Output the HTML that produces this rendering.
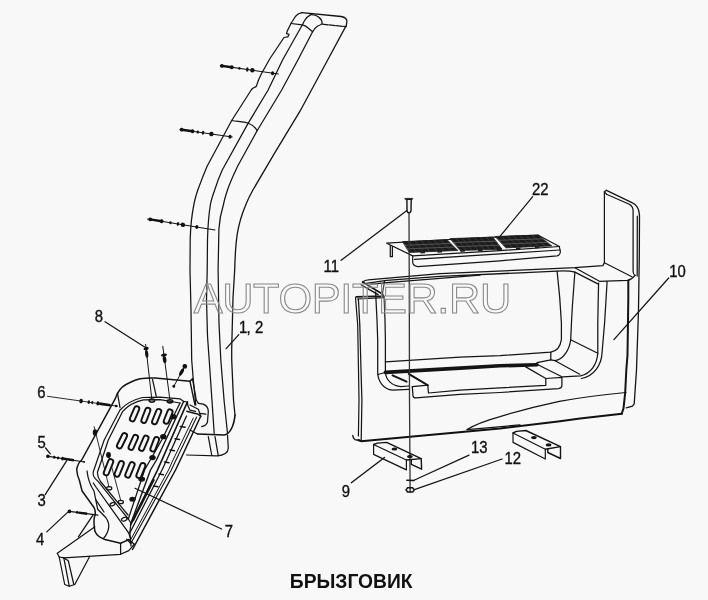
<!DOCTYPE html>
<html>
<head>
<meta charset="utf-8">
<title>Брызговик</title>
<style>
html,body{margin:0;padding:0;background:#f8f8f8;}
body{width:708px;height:600px;overflow:hidden;font-family:"Liberation Sans",sans-serif;}
svg{display:block;filter:grayscale(1);}
.l{fill:none;stroke:#141414;stroke-width:1.25;stroke-linecap:round;stroke-linejoin:round;}
.t{fill:none;stroke:#111;stroke-width:1.6;stroke-linecap:round;stroke-linejoin:round;}
.n{fill:none;stroke:#333;stroke-width:0.8;stroke-linecap:round;stroke-linejoin:round;}
.lab{font-family:"Liberation Sans",sans-serif;font-size:16px;fill:#111;stroke:#111;stroke-width:0.35;}
.wm{font-family:"Liberation Sans",sans-serif;font-size:43.3px;fill:#ffffff;fill-opacity:0.2;stroke:#8a8a8a;stroke-width:1.1;}
.ttl{font-family:"Liberation Sans",sans-serif;font-size:19.8px;font-weight:bold;fill:#111;}
</style>
</head>
<body>
<svg width="708" height="600" viewBox="0 0 708 600">
<rect x="0" y="0" width="708" height="600" fill="#f8f8f8"/>

<!-- ===== PILLAR (1,2) ===== -->
<g id="pillar" class="l">
<!-- outer left L1 -->
<path d="M301.8,12.7 C298.5,13.5 296.8,14.8 295.4,16.5 L291,23.5 L287.2,31.1 L286.5,33.7 L289.1,34.3 L287.8,36.9 L284,37.5 L270,58.5 L261.4,73.7 L258.5,80 L256.3,86.4 L252.5,88.5 L251.2,90 L231.7,120.5 L207.1,166.3 C203,176 200,184 197.8,190 C195.5,197 194.5,201 194,204 C191.5,216 190.5,228 190.2,239.5 L190,270 L191,310.8 L191.7,360 L193.3,380 L195.8,405"/>
<!-- top edge + right outer R -->
<path d="M301.8,12.7 L341.2,16.5 C345,17.3 347,19 346.9,21.6 L346.3,25.4 L327.8,59.7 L300,111.2 L274.9,152.7 L252.9,190 C249,197 247.5,200.5 246.1,204 C241,216 238.5,226 237.2,234.4 C235.5,246 235,258 234.7,270 L233,298 L231.7,349 L231.7,360 L233.5,400 L235,415" style="stroke-width:1.3"/>
<!-- L2 -->
<path d="M310.7,14.6 C308,16 305.8,18.5 304.3,21 L302.4,24.8 L282.7,59.7 L268.1,90 L247.8,123.9 L222.4,169.7 C219,177 216.5,184 214.7,190 C212.5,196 211.3,200 210.5,204 C208.5,216 207.8,228 207.5,239.5 L207.2,270 L206.5,300 L207.5,336 L209.2,360 L214.2,433.3"/>
<!-- dome -->
<path d="M310.7,14.6 C314,14.5 317,15.5 318.9,17.2 C321,19 322.3,21 322.1,23.5 C321,25 319.5,25.5 317.7,26 C315.5,27.5 313.8,29.5 312.6,31.8"/>
<!-- L3 -->
<path d="M312.6,31.8 L298,59.7 L281.7,90 L257.1,130.7 L237.6,166.3 C233,176 229.5,184 227.5,190 C225.5,196 224.3,200 223.6,204 C220.5,214 219.3,222 218.9,229.3 L218.1,270 L219,323.6 L220.8,360 L224.2,401.7 L227.5,433.3"/>
<!-- cap seams -->
<path d="M291,23.5 L302.4,24.8 C305,25.5 306.8,26.6 308.1,28 L312.6,31.8"/>
<path d="M322.1,24.2 L346.3,26.7" stroke-dasharray="6 1.2" style="stroke-width:1.3"/>
<!-- mid seam -->
<path d="M231.7,120.5 C238,121.5 244,122 247.8,123 C252,124.5 255,127 257.1,130.7"/>
</g>


<!--LEFT-BEGIN-->
<!-- ===== STEP HOUSING (3) / PLATE (7) ===== -->
<g id="housing" class="l">
<!-- housing top curve & box -->
<path d="M117.5,393.3 C120.5,387.5 125,384.5 130,382.5 C134,380.5 137,379.5 140,378.8 C145,378 150,378 155,378.1 L190,381.3 L192.5,378.8" stroke-width="1.5"/>
<path d="M190,381.3 L195,405" stroke-width="1.4"/>
<path d="M192.5,378.8 L196.3,400 L198.3,403.3"/>
<path d="M117.5,393.3 L120,407.5"/>
<path d="M152.5,379.4 L156.3,396.3"/>
<!-- housing left slant -->
<path d="M117.5,393.3 L115,399.2 L81.7,460 C79,462 77.5,465 76.7,469.2 C77,474 78,477.5 79.3,480 L82.1,491 L94,507.5 C95.5,510.5 95.8,513.5 94.5,516.7 C93.5,521 94,526 94.9,531.3 C96,534 97.5,535.8 99.5,536.8 L105,539.6 L120.6,543.3 L128.8,539.6" stroke-width="1.5"/>
<path d="M120.6,543.3 L120.6,554.3"/>
<path d="M128.8,539.6 L134.3,544.2"/>
<path d="M63.8,557.9 L120.6,554.3 L128.8,550.6 L134.3,544.2"/>
<!-- inner D curve of housing -->
<path d="M87,471 C88,479 90.5,486 94,491 L97.7,509.3 L105,516.7 C108,520 109,524 108.7,527.7 C108,532 106,536 103.2,538.7"/>
<path d="M96,500 L104,512"/>
<!-- bottom bracket -->
<path d="M57.3,553.3 L94.9,526.8" stroke-width="1.2"/>
<path d="M78.4,536.8 L93.1,514.8"/>
<path d="M57.3,553.3 L59.2,557 L64.7,584.5 L69.3,586.3 L74.8,584.5 L89.4,557" stroke-width="1.2"/>
<path d="M59.2,557 L63.8,557.9 L68.3,560.7 L73.8,584.5"/>
<path d="M63.8,557.9 L69.3,586.3"/>
<!-- plate double outline -->
<path d="M184,401.7 L180,398.8 L160,397.2 L142.5,397.5 C134,399.5 126,403.5 120,410 L104.2,440 L97.3,460 L93.3,471.7 C92.8,475 93.5,477 95,478.3 L98.3,481.7 L128.3,519" stroke-width="1.2"/>
<path d="M93.3,483 L96.3,487.5 L128.8,533.2 L130.7,538.7"/>
<path d="M180,403 L160,399.6 L143.5,399.9 C135.5,401.5 128,405.5 122.5,411.7 L108.3,440 L101.7,460 L97.5,472 C97.2,475.5 98,478 100.5,481.5 L128,515"/>
<!-- plate right edge + rails -->
<path d="M180,403 L161.7,440 L144.6,470 L128.3,519"/>
<path d="M183.6,401.5 L156.5,460 L150.5,470 L131,523" stroke-width="1.4"/>
<path d="M187.4,402 L161.9,460 L157.5,470 L130.7,524.7" stroke-width="1.7"/>
<path d="M183.6,401.5 L187.4,402 L187.9,405.8 L190,410.2 L195.5,411.3"/>
<path d="M186.8,411.3 L193.3,412.9 L197.7,414 L200.7,416.2" stroke-width="1.5"/>
<path d="M190,405 L198.3,409.2 L200.7,416.2"/>
<path d="M186.5,416 L166.7,460 L162,470 L129.8,533" stroke-width="1.3"/>
<path d="M193.3,418 L173,460 L168.5,470 L130.5,540" stroke-width="1"/>
<path d="M196.7,417 L176,460 L171.3,470 L130.8,543.5" stroke-width="1.1"/>
<path d="M200.7,416.2 L180.3,460 L175.5,470 L132.5,549.5" stroke-width="1.5"/>
<path d="M128.3,519 L131,523 L130.7,524.7 L129.8,533 L130.5,540 L131,545.9"/>
<path d="M126.7,539.2 L130.8,543.5"/>
<!-- rail rungs -->
<path d="M180.3,426.5 L185.2,427.2 M175,438.8 L179.5,439.5 M170,450 L174.5,450.7 M164.5,462 L169,462.7 M159,474 L163.5,474.7 M153.5,486 L158,486.7" stroke-width="1.4"/>
<path d="M153.5,480 L132.8,520.5" stroke-width="2.4" stroke-dasharray="1.1 0.9"/>
<!-- rounded bracket behind pillar -->
<path d="M198.3,403.3 L203.3,404.2 C206.5,405.5 208.3,408 208.3,411.7 L207.5,421.7 C207,424.5 205,426 201.7,426.7"/>
<path d="M200,413.3 L205.8,414.2"/>
<!-- pillar base -->
<path class="t" d="M197.5,434 L224.2,435 C230,434 234,426 235,415"/>
<path d="M227.5,435 L228.3,448.3 C228,453 224,455.5 216.7,455.8 L186.7,455"/>
<path d="M208.3,436.7 L211.7,455"/>
<path d="M215,436.7 L218.3,455.8"/>
<path d="M190,430 L197.5,434"/>
<!-- bolt holes -->
<ellipse cx="151.9" cy="400.6" rx="2.7" ry="1.6" stroke-width="1.6"/>
<ellipse cx="170" cy="401.3" rx="2.7" ry="1.6" stroke-width="1.6"/>
<ellipse cx="109.2" cy="488.3" rx="2.6" ry="1.7"/>
<ellipse cx="120.8" cy="502" rx="2.6" ry="1.7"/>
<ellipse cx="112.5" cy="504.2" rx="2.6" ry="1.5" transform="rotate(-20 112.5 504.2)"/>
<ellipse cx="124.2" cy="519.2" rx="2.8" ry="1.7" transform="rotate(-20 124.2 519.2)"/>
<ellipse cx="173.3" cy="416.7" rx="2.6" ry="2" fill="#111"/>
<ellipse cx="163.3" cy="436.7" rx="2.6" ry="2" fill="#111"/>
<ellipse cx="152.5" cy="457.5" rx="2.6" ry="2" fill="#111"/>
<ellipse cx="141.7" cy="479.2" rx="2.8" ry="1.8" fill="#111"/>
<ellipse cx="132.5" cy="499.2" rx="2.6" ry="1.9" fill="#111"/>
<!-- bolt axes through plate -->
<path d="M94.2,426.7 L109,487" stroke-width="0.9"/>
<path d="M108.3,454.2 L120.8,500.8" stroke-width="0.9"/>
<ellipse cx="95" cy="432.5" rx="1.6" ry="2.6" fill="#111"/>
<ellipse cx="108.5" cy="455" rx="1.8" ry="2.4" fill="#111"/>
</g>
<!-- leaders left -->
<g class="l">
<path d="M105,321.7 L144.6,347"/>
<path d="M45.6,448 L50.3,453.8"/>
<path d="M45.2,494.6 L66.6,460.8"/>
<path d="M46.8,531.9 L67.8,512.1"/>
<path d="M135,488.3 L221.6,529"/>
<path d="M238.8,334.6 L226.1,348.7"/>
</g>

<g id="slots">
<line x1="136.7" y1="408.8" x2="132.4" y2="418.8" stroke="#111" stroke-width="7.0" stroke-linecap="round"/>
<line x1="136.7" y1="408.8" x2="132.4" y2="418.8" stroke="#f4f4f4" stroke-width="3.2" stroke-linecap="round"/>
<line x1="147.8" y1="410.3" x2="143.9" y2="420.4" stroke="#111" stroke-width="7.0" stroke-linecap="round"/>
<line x1="147.8" y1="410.3" x2="143.9" y2="420.4" stroke="#f4f4f4" stroke-width="3.2" stroke-linecap="round"/>
<line x1="158.7" y1="411.5" x2="154.6" y2="421.7" stroke="#111" stroke-width="7.0" stroke-linecap="round"/>
<line x1="158.7" y1="411.5" x2="154.6" y2="421.7" stroke="#f4f4f4" stroke-width="3.2" stroke-linecap="round"/>
<line x1="170.0" y1="411.9" x2="166.3" y2="421.2" stroke="#111" stroke-width="7.0" stroke-linecap="round"/>
<line x1="170.0" y1="411.9" x2="166.3" y2="421.2" stroke="#f4f4f4" stroke-width="3.2" stroke-linecap="round"/>
<line x1="124.5" y1="435.6" x2="119.5" y2="445.9" stroke="#111" stroke-width="7.0" stroke-linecap="round"/>
<line x1="124.5" y1="435.6" x2="119.5" y2="445.9" stroke="#f4f4f4" stroke-width="3.2" stroke-linecap="round"/>
<line x1="135.5" y1="437.4" x2="131.1" y2="447.3" stroke="#111" stroke-width="7.0" stroke-linecap="round"/>
<line x1="135.5" y1="437.4" x2="131.1" y2="447.3" stroke="#f4f4f4" stroke-width="3.2" stroke-linecap="round"/>
<line x1="146.0" y1="438.2" x2="141.6" y2="448.3" stroke="#111" stroke-width="7.0" stroke-linecap="round"/>
<line x1="146.0" y1="438.2" x2="141.6" y2="448.3" stroke="#f4f4f4" stroke-width="3.2" stroke-linecap="round"/>
<line x1="156.5" y1="439.6" x2="152.9" y2="449.0" stroke="#111" stroke-width="7.0" stroke-linecap="round"/>
<line x1="156.5" y1="439.6" x2="152.9" y2="449.0" stroke="#f4f4f4" stroke-width="3.2" stroke-linecap="round"/>
<line x1="110.7" y1="461.7" x2="106.3" y2="472.8" stroke="#111" stroke-width="7.0" stroke-linecap="round"/>
<line x1="110.7" y1="461.7" x2="106.3" y2="472.8" stroke="#f4f4f4" stroke-width="3.2" stroke-linecap="round"/>
<line x1="121.3" y1="463.6" x2="117.1" y2="474.2" stroke="#111" stroke-width="7.0" stroke-linecap="round"/>
<line x1="121.3" y1="463.6" x2="117.1" y2="474.2" stroke="#f4f4f4" stroke-width="3.2" stroke-linecap="round"/>
<line x1="132.1" y1="464.7" x2="127.8" y2="475.1" stroke="#111" stroke-width="7.0" stroke-linecap="round"/>
<line x1="132.1" y1="464.7" x2="127.8" y2="475.1" stroke="#f4f4f4" stroke-width="3.2" stroke-linecap="round"/>
<line x1="142.8" y1="465.6" x2="138.9" y2="475.5" stroke="#111" stroke-width="7.0" stroke-linecap="round"/>
<line x1="142.8" y1="465.6" x2="138.9" y2="475.5" stroke="#f4f4f4" stroke-width="3.2" stroke-linecap="round"/>
</g>
<g id="screws">
<line class="l" x1="220.2" y1="65.6" x2="278.4" y2="74" style="stroke-width:1.1"/>
<line x1="221.9" y1="65.9" x2="231.8" y2="67.3" stroke="#111" stroke-width="2.4"/>
<ellipse cx="221.9" cy="65.9" rx="1.9" ry="1.9" fill="#111" transform="rotate(8.2 221.9 65.9)"/>
<ellipse cx="231.8" cy="67.3" rx="1.9" ry="2.0" fill="#111" transform="rotate(8.2 231.8 67.3)"/>
<ellipse cx="239.4" cy="68.4" rx="1.2" ry="1.3" fill="#111" transform="rotate(8.2 239.4 68.4)"/>
<ellipse cx="247.3" cy="69.5" rx="1.2" ry="2.2" fill="#111" transform="rotate(8.2 247.3 69.5)"/>
<ellipse cx="252.4" cy="70.2" rx="2.2" ry="2.2" fill="#111" transform="rotate(8.2 252.4 70.2)"/>
<ellipse cx="272.6" cy="73.2" rx="1.6" ry="2.0" fill="#111" transform="rotate(8.2 272.6 73.2)"/>
<line class="l" x1="180" y1="129.5" x2="232.3" y2="137" style="stroke-width:1.1"/>
<line x1="181.6" y1="129.7" x2="192.6" y2="131.3" stroke="#111" stroke-width="2.4"/>
<ellipse cx="181.6" cy="129.7" rx="1.9" ry="1.9" fill="#111" transform="rotate(8.2 181.6 129.7)"/>
<ellipse cx="192.6" cy="131.3" rx="1.8" ry="2.0" fill="#111" transform="rotate(8.2 192.6 131.3)"/>
<ellipse cx="197.8" cy="132.1" rx="1.2" ry="1.5" fill="#111" transform="rotate(8.2 197.8 132.1)"/>
<ellipse cx="203.0" cy="132.8" rx="1.2" ry="2.0" fill="#111" transform="rotate(8.2 203.0 132.8)"/>
<ellipse cx="211.4" cy="134.0" rx="2.2" ry="2.2" fill="#111" transform="rotate(8.2 211.4 134.0)"/>
<ellipse cx="230.0" cy="136.7" rx="1.6" ry="2.0" fill="#111" transform="rotate(8.2 230.0 136.7)"/>
<line class="l" x1="147.5" y1="219" x2="215" y2="230" style="stroke-width:1.1"/>
<line x1="150.2" y1="219.4" x2="161.7" y2="221.3" stroke="#111" stroke-width="2.4"/>
<ellipse cx="150.2" cy="219.4" rx="1.9" ry="1.9" fill="#111" transform="rotate(9.3 150.2 219.4)"/>
<ellipse cx="161.7" cy="221.3" rx="1.8" ry="2.0" fill="#111" transform="rotate(9.3 161.7 221.3)"/>
<ellipse cx="170.4" cy="222.7" rx="1.2" ry="1.5" fill="#111" transform="rotate(9.3 170.4 222.7)"/>
<ellipse cx="177.9" cy="223.9" rx="1.2" ry="2.0" fill="#111" transform="rotate(9.3 177.9 223.9)"/>
<ellipse cx="182.9" cy="224.8" rx="2.2" ry="2.2" fill="#111" transform="rotate(9.3 182.9 224.8)"/>
<ellipse cx="196.8" cy="227.0" rx="1.5" ry="2.0" fill="#111" transform="rotate(9.3 196.8 227.0)"/>
<line class="l" x1="47.5" y1="396.3" x2="117.5" y2="406.2" style="stroke-width:0.9"/>
<line x1="99.3" y1="403.6" x2="110.5" y2="405.2" stroke="#111" stroke-width="2.6"/>
<ellipse cx="81.1" cy="401.1" rx="1.8" ry="2.4" fill="#111" transform="rotate(8.0 81.1 401.1)"/>
<ellipse cx="88.8" cy="402.1" rx="1.2" ry="1.8" fill="#111" transform="rotate(8.0 88.8 402.1)"/>
<ellipse cx="92.3" cy="402.6" rx="1.0" ry="1.6" fill="#111" transform="rotate(8.0 92.3 402.6)"/>
<ellipse cx="97.9" cy="403.4" rx="1.5" ry="2.2" fill="#111" transform="rotate(8.0 97.9 403.4)"/>
<ellipse cx="116.1" cy="406.0" rx="1.3" ry="1.3" fill="#111" transform="rotate(8.0 116.1 406.0)"/>
<line class="l" x1="46.8" y1="456.1" x2="84.5" y2="462" style="stroke-width:1.1"/>
<line x1="63.8" y1="458.8" x2="73.9" y2="460.3" stroke="#111" stroke-width="2.4"/>
<ellipse cx="47.9" cy="456.3" rx="1.8" ry="1.8" fill="#111" transform="rotate(8.9 47.9 456.3)"/>
<ellipse cx="54.3" cy="457.3" rx="1.3" ry="1.5" fill="#111" transform="rotate(8.9 54.3 457.3)"/>
<ellipse cx="58.1" cy="457.9" rx="1.2" ry="1.5" fill="#111" transform="rotate(8.9 58.1 457.9)"/>
<ellipse cx="62.6" cy="458.6" rx="1.5" ry="1.9" fill="#111" transform="rotate(8.9 62.6 458.6)"/>
<ellipse cx="84.1" cy="461.9" rx="0.9" ry="0.9" fill="#111" transform="rotate(8.9 84.1 461.9)"/>
<line class="l" x1="69.4" y1="511.4" x2="98" y2="515.1" style="stroke-width:1.1"/>
<line x1="78.6" y1="512.6" x2="87.1" y2="513.7" stroke="#111" stroke-width="2.4"/>
<ellipse cx="69.4" cy="511.4" rx="1.8" ry="1.8" fill="#111" transform="rotate(7.4 69.4 511.4)"/>
<ellipse cx="77.1" cy="512.4" rx="1.3" ry="1.4" fill="#111" transform="rotate(7.4 77.1 512.4)"/>
<line class="l" x1="145.6" y1="344.4" x2="151.9" y2="400" style="stroke-width:1.0"/>
<ellipse cx="146.1" cy="348.6" rx="1.7" ry="2.6" fill="#111" transform="rotate(83.5 146.1 348.6)"/>
<ellipse cx="146.7" cy="353.9" rx="3.8" ry="1.6" fill="#111" transform="rotate(83.5 146.7 353.9)"/>
<line class="l" x1="162.8" y1="346.3" x2="170" y2="400.5" style="stroke-width:1.0"/>
<ellipse cx="164.0" cy="355.0" rx="1.5" ry="3.0" fill="#111" transform="rotate(82.4 164.0 355.0)"/>
<ellipse cx="164.6" cy="359.6" rx="3.6" ry="1.8" fill="#111" transform="rotate(82.4 164.6 359.6)"/>
<line class="l" x1="185.5" y1="365" x2="173.8" y2="386.3" style="stroke-width:1.0"/>
<ellipse cx="184.8" cy="366.3" rx="2.2" ry="2.4" fill="#111" transform="rotate(118.8 184.8 366.3)"/>
<ellipse cx="181.6" cy="372.0" rx="4.0" ry="1.7" fill="#111" transform="rotate(118.8 181.6 372.0)"/>
<ellipse cx="173.8" cy="386.3" rx="1.5" ry="1.5" fill="#111" transform="rotate(118.8 173.8 386.3)"/>
</g>
<!--LEFT-END-->
<!-- ===== FENDER (10) ===== -->
<g id="fender" class="l">
<!-- top rim -->
<path d="M362.6,282 C364.5,280.4 366.5,280 368.2,279.9 L440,273.6 L520,270.1 L574.9,267.7 L602.9,265.6 L604.4,262.8" stroke-width="1.3"/>
<path d="M366.1,283.4 L386.6,280.4 L440,276.4 L520,272.8 L557.1,271.1 C566,270.7 571,271 574.9,272.2 L597.8,283.8" stroke-width="1.3"/>
<path d="M370.4,284.3 L386.6,282.7 L440,278.4 L480,275.2"/>
<!-- zigzag -->
<path d="M362.6,282 L382.4,294 L383.8,296.1 L356.2,296.8" stroke-width="1.7"/>
<path d="M361.2,284.8 L378.1,294.7" stroke-width="1.4"/>
<path d="M357.7,299 L383.8,297.6"/>
<path d="M384.5,281.3 L382.4,294"/>
<!-- left outer -->
<path d="M355.5,297.5 L357.7,325 L358.5,370 L359,400 L358.4,436" stroke-width="1.2"/>
<path d="M358.4,299 L359.8,325 L361,370 L361.9,400 L361.2,440"/>
<path d="M352.7,435.5 L353.4,437.8 L355,439.6 L361.2,441" stroke-width="1.3"/>
<!-- bottom edge -->
<path class="t" d="M358.4,440 L361.2,441.2 L440,434 L500,428.5 L560,421.2 L580,418.4 L621.8,413.8" style="stroke-width:2"/>
<!-- right side -->
<path d="M606.5,190.3 L631.9,202.6 C636.5,204.5 639.3,208.5 639.5,215.8 L639.3,255 L638.5,310 L636.5,370 L634.2,403.9 L632.5,406.2 L626.3,407.9" stroke-width="1.3"/>
<path d="M637.3,216 L637.2,276"/>
<path d="M628.3,280.4 L628.3,300 L627.5,355 L626.3,370 L625.2,392.6 L623.5,408.4 L621.8,413.5" stroke-width="2"/>
<!-- tall flap -->
<path d="M606.5,190.3 L604.4,191.8 L604.4,262.8 L631.9,276.8" stroke-width="1.2"/>
<path d="M606.5,194.2 L629.3,204.3 C631.8,205.8 633.1,208 633.1,210.7 L633.1,271.7 C633.3,274 634.3,275 635.1,275.3"/>
<path d="M604.4,191.8 L606.5,194.2"/>
<!-- notch -->
<path d="M574.9,267.7 L599.5,281.3 L627.5,280.4 C630.5,279.8 633,278 635.1,275.3" stroke-width="1.2"/>
<!-- inner opening -->
<path d="M607.1,281.5 L606,300 L604.6,322.8 L602,353.3 C601.5,364 595,375.5 581.4,378.5"/>
<path d="M598.6,283 L598.2,300 L597.8,322.8 L597.8,353.3 C597,364.5 591,373.5 580.5,375.9 L562.7,376.8"/>
<path d="M557.1,271.1 L559.7,297.4 L561.4,322.8 L561.4,339.7 C560,348.5 556,351.5 550.8,352.2 L500,355.6 L460,357.2 L385.4,361.9"/>
<path d="M574.9,272 L572.4,305.8 L571.5,322 L570.7,339.7 C569.5,350 563,359.5 555.1,360.7 L550.8,359.8"/>
<path d="M550.8,352.2 L550.8,359.8"/>
<path d="M570.7,339.7 L597.8,353.3"/>
<path d="M555.1,360.7 L579.7,374.2"/>
<path d="M536.4,364 L561.9,376.8"/>
<!-- inner left -->
<path d="M375.6,291.9 L377,320 L377.7,340 L377.7,372.5 C378,382 384,389.5 392.5,390.1 L408.7,389.4"/>
<path d="M384,296.4 L385,320 L385.4,340 L385.4,372.5 C386,380 392,386 401,386.6 L408.7,386"/>
<path d="M377.7,374.5 L385.4,372.5"/>
<!-- dark band -->
<path d="M385.4,372.4 L460,368.1 L500,365.8 L537,364.8" stroke-width="3.6"/>
<path d="M550.8,359.8 L537,362.6"/>
<!-- left shelf bracket -->
<path d="M408.7,373.9 L427.8,385.2" stroke-width="1.9"/>
<path d="M408.7,373.9 L427.8,385.2 L428.5,393 L460,390.1 L500,387.8 L545.8,385.3 L545.8,378.5 L525.4,366.6"/>
<path d="M392.5,375.3 L406.6,381.7" stroke-width="1.9"/>
<path d="M412.3,386.6 L427.8,385.2"/>
<path d="M412.3,386.6 L413,395.8 C413.3,397.3 414.3,397.9 415.8,397.9 L460,394.4 L500,392.5 L558.5,388.6 C560.8,388.3 561.9,387 561.9,385.3 L561.9,377.3 L545.8,378.5"/>
<!-- swoosh -->
<path d="M467.1,429.6 C475,424.5 486,420.5 500,416.6 C520,410.5 540,405.5 559.3,401.4 C580,397.5 600,395 625.9,392.5"/>
<path d="M467.1,429.6 L520,424.9"/>
</g>

<!-- ===== STEP PLATE (22) ===== -->
<g id="plate" class="l">
<path d="M386.7,243.2 L440,240 L500,236.8 L538.3,235.2 L559.3,246.5 L560.4,251.8 C560.3,254 559,255.5 557.1,255.9 L500,260.8 L417.6,266.6 C414.5,266 413,264.5 412.7,262.6 L412.7,255.9 L386.7,243.2" stroke-width="1.2"/>
<path d="M412.7,255.9 L500,250.6 L559.3,246.5"/>
<path d="M414.5,259.3 L500,253.8 L560,250"/>
<path d="M390.3,245.5 L390.3,256.7 L392.4,256.7 L392.4,246.5"/>
<path d="M402.8,241.6 L447.1,239.8 L457.8,250.5 L409.5,252.4 Z" fill="#1c1c1c" stroke="#1c1c1c" stroke-width="0.8"/>
<path d="M405.1,245.3 L450.7,243.4" stroke="#7a7a7a" stroke-width="0.6"/>
<path d="M407.3,248.8 L454.3,247.0" stroke="#7a7a7a" stroke-width="0.6"/>
<path d="M409.0,241.3 L416.3,252.1" stroke="#555" stroke-width="0.5"/>
<path d="M415.2,241.1 L423.0,251.9" stroke="#555" stroke-width="0.5"/>
<path d="M421.4,240.8 L429.8,251.6" stroke="#555" stroke-width="0.5"/>
<path d="M428.1,240.6 L437.0,251.3" stroke="#555" stroke-width="0.5"/>
<path d="M434.3,240.3 L443.8,251.1" stroke="#555" stroke-width="0.5"/>
<path d="M440.9,240.1 L451.0,250.8" stroke="#555" stroke-width="0.5"/>
<path d="M450.3,238.6 L492.7,237.1 L502.1,249.2 L460.5,250.5 Z" fill="#1c1c1c" stroke="#1c1c1c" stroke-width="0.8"/>
<path d="M453.8,242.6 L495.9,241.2" stroke="#7a7a7a" stroke-width="0.6"/>
<path d="M457.1,246.6 L499.0,245.2" stroke="#7a7a7a" stroke-width="0.6"/>
<path d="M456.2,238.4 L466.3,250.3" stroke="#555" stroke-width="0.5"/>
<path d="M462.2,238.2 L472.1,250.1" stroke="#555" stroke-width="0.5"/>
<path d="M468.1,238.0 L478.0,250.0" stroke="#555" stroke-width="0.5"/>
<path d="M474.5,237.7 L484.2,249.8" stroke="#555" stroke-width="0.5"/>
<path d="M480.4,237.5 L490.0,249.6" stroke="#555" stroke-width="0.5"/>
<path d="M486.8,237.3 L496.3,249.4" stroke="#555" stroke-width="0.5"/>
<path d="M495.4,236.5 L538.3,235.2 L551.8,245.9 L506.1,247.8 Z" fill="#1c1c1c" stroke="#1c1c1c" stroke-width="0.8"/>
<path d="M499.0,240.3 L542.9,238.8" stroke="#7a7a7a" stroke-width="0.6"/>
<path d="M502.6,244.1 L547.3,242.4" stroke="#7a7a7a" stroke-width="0.6"/>
<path d="M501.4,236.3 L512.5,247.5" stroke="#555" stroke-width="0.5"/>
<path d="M507.4,236.1 L518.9,247.3" stroke="#555" stroke-width="0.5"/>
<path d="M513.4,236.0 L525.3,247.0" stroke="#555" stroke-width="0.5"/>
<path d="M519.9,235.8 L532.1,246.7" stroke="#555" stroke-width="0.5"/>
<path d="M525.9,235.6 L538.5,246.5" stroke="#555" stroke-width="0.5"/>
<path d="M532.3,235.4 L545.4,246.2" stroke="#555" stroke-width="0.5"/>
<path d="M420.5,252 l4.5,-0.3 l0,1.6 l-4.5,0.3 Z" fill="#1c1c1c" stroke="none"/>
<path d="M437.5,251.2 l4.5,-0.3 l0,1.6 l-4.5,0.3 Z" fill="#1c1c1c" stroke="none"/>
<path d="M460.5,250.3 l4.5,-0.3 l0,1.6 l-4.5,0.3 Z" fill="#1c1c1c" stroke="none"/>
<path d="M478,249.6 l4.5,-0.3 l0,1.6 l-4.5,0.3 Z" fill="#1c1c1c" stroke="none"/>
<path d="M497,248.8 l4.5,-0.3 l0,1.6 l-4.5,0.3 Z" fill="#1c1c1c" stroke="none"/>
<path d="M516,247.8 l4.5,-0.3 l0,1.6 l-4.5,0.3 Z" fill="#1c1c1c" stroke="none"/>
<path d="M535,246.8 l4.5,-0.3 l0,1.6 l-4.5,0.3 Z" fill="#1c1c1c" stroke="none"/>
</g>

<!-- ===== BOLT 11 + axis ===== -->
<g id="bolt11" class="l">
<path d="M409,213 L409.3,300 L409.5,400 L410.1,487.5" style="stroke:#333;stroke-width:1.3"/>
<path d="M405.1,198.4 L412.9,198.4 L411.6,200 L406.4,200 Z" fill="#111" stroke-width="0.8"/>
<path d="M406.9,200 L407,211 C407.6,213.3 410.4,213.3 411,211 L411.2,200" fill="#f4f4f4" stroke-width="1.4"/>
<path d="M341.1,260.3 L406.9,210.5"/>
<!-- washer 13 / nut 12 -->
<path d="M406.9,480.3 L414,480.5" stroke-width="1.6"/>
<path d="M406,489.9 L407.6,487.8 L412.6,487.8 L414.3,489.9 L412.6,492 L407.6,492 Z" stroke-width="1.5"/>
<path d="M410.1,487.8 L410.1,492" stroke-width="1.2"/>
<path d="M469,455.1 L414,480.2"/>
<path d="M502.1,459 L414.4,489.7"/>
</g>

<!-- ===== BRACKETS (9) ===== -->
<g id="brackets" class="l" style="stroke-width:1.4">
<path d="M373.6,444.5 L373.6,454.4 L406.4,469.9 L406.4,460 Z" stroke-width="1.2"/>
<path d="M373.6,444.5 L377.4,443.1 L386.6,442.4 L421.2,458.6 L406.4,460"/>
<path d="M421.2,458.6 L421.6,469.2 L411.3,464.3 L411.3,460"/>
<ellipse cx="394.4" cy="449" rx="2.2" ry="0.9" fill="#222"/>
<ellipse cx="409.9" cy="456.5" rx="2.2" ry="0.9" fill="#222"/>
<path d="M351.3,482.7 L384.5,457.5"/>
<path d="M513,433 L513,442.4 L545.3,459 L545.3,449.2 Z" stroke-width="1.2"/>
<path d="M513,433 L516.4,431.4 L525.8,430.5 L560.5,446.6 L545.3,449.2"/>
<path d="M560.5,446.6 L560.5,458.5 L547.8,452.5 L547.8,449"/>
<ellipse cx="533.9" cy="437.6" rx="2.2" ry="0.9" fill="#222"/>
<ellipse cx="548.6" cy="444.9" rx="2.2" ry="0.9" fill="#222"/>
</g>

<!-- leaders right -->
<g class="l">
<path d="M532.7,196.7 L500,236.3"/>
<path d="M668.7,278 L613.9,339.7"/>
</g>

<!-- ===== WATERMARK ===== -->
<text class="wm" x="193.7" y="313" textLength="317.5" lengthAdjust="spacing">AUTOPITER.RU</text>

<!-- ===== LABELS ===== -->
<g class="lab">
<text transform="translate(94.8,321.7) scale(0.93,1)" x="0" y="0">8</text>
<text transform="translate(37.3,398) scale(0.93,1)" x="0" y="0">6</text>
<text transform="translate(37.5,448) scale(0.93,1)" x="0" y="0">5</text>
<text transform="translate(37.5,506.2) scale(0.93,1)" x="0" y="0">3</text>
<text transform="translate(36.1,544.7) scale(0.93,1)" x="0" y="0">4</text>
<text transform="translate(224.7,536.6) scale(0.93,1)" x="0" y="0">7</text>
<text transform="translate(341.7,496.7) scale(0.93,1)" x="0" y="0">9</text>
<text transform="translate(669.3,276.8) scale(0.93,1)" x="0" y="0">10</text>
<text transform="translate(323.5,272.2) scale(0.93,1)" x="0" y="0">11</text>
<text transform="translate(504.6,464.3) scale(0.93,1)" x="0" y="0">12</text>
<text transform="translate(471.1,453.3) scale(0.93,1)" x="0" y="0">13</text>
<text transform="translate(532.0,194.9) scale(0.93,1)" x="0" y="0">22</text>
<text transform="translate(239.1,332.8) scale(0.93,1)" x="0" y="0">1</text>
<text transform="translate(246.5,332.8) scale(0.93,1)" x="0" y="0">,</text>
<text transform="translate(255.1,332.8) scale(0.93,1)" x="0" y="0">2</text>
</g>

<!-- ===== TITLE ===== -->
<text class="ttl" x="289.8" y="587.9" textLength="122.8" lengthAdjust="spacingAndGlyphs">БРЫЗГОВИК</text>
</svg>
</body>
</html>
